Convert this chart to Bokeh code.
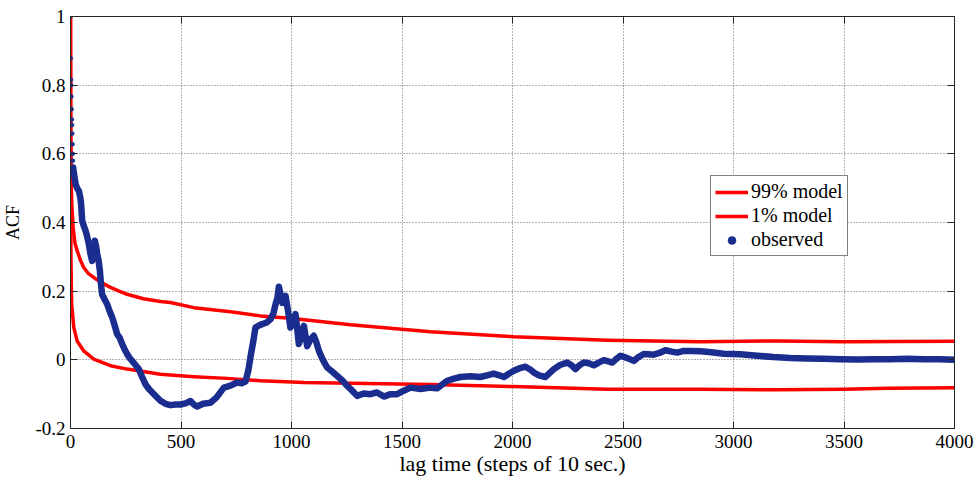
from bokeh.plotting import figure
from bokeh.models import Range1d, FixedTicker, LinearAxis, Legend, LegendItem
from bokeh.embed import file_html
from bokeh.resources import INLINE

# ---------------- data ----------------
obs_lag = [0, 1, 2, 3, 4, 5, 6, 7, 8, 9, 10, 11, 12, 15, 23, 30, 38, 45, 48, 53, 60, 68, 75, 83, 90, 98,
           104, 110, 116, 121, 127, 133, 138, 143, 155, 166, 178, 189, 200, 211, 222, 234, 245, 256, 268,
           279, 294, 309, 324, 339, 355, 370, 390, 407, 430, 452, 475, 498, 520, 543, 558, 573, 600, 633,
           660, 694, 724, 754, 775, 792, 805, 814, 826, 837, 852, 867, 886, 905, 918, 928, 936, 943, 950,
           958, 965, 973, 985, 995, 1007, 1018, 1026, 1033, 1045, 1056, 1063, 1071, 1086, 1101, 1113, 1124,
           1142, 1161, 1185, 1207, 1230, 1252, 1275, 1297, 1327, 1357, 1387, 1418, 1448, 1478, 1508, 1538,
           1584, 1629, 1659, 1704, 1735, 1765, 1810, 1855, 1885, 1915, 1940, 1961, 1985, 2006, 2030, 2059,
           2080, 2097, 2120, 2149, 2165, 2187, 2215, 2247, 2265, 2285, 2305, 2323, 2345, 2368, 2390, 2413,
           2430, 2451, 2470, 2489, 2520, 2549, 2570, 2594, 2615, 2639, 2665, 2692, 2720, 2745, 2775, 2805,
           2851, 2900, 2956, 3030, 3107, 3180, 3258, 3330, 3408, 3480, 3560, 3640, 3710, 3790, 3861, 3930,
           4000]
obs_acf = [1.0, 0.878, 0.816, 0.80, 0.767, 0.73, 0.70, 0.684, 0.659, 0.628, 0.60, 0.58, 0.56, 0.546, 0.512,
           0.50, 0.492, 0.47, 0.454, 0.405, 0.39, 0.376, 0.36, 0.337, 0.31, 0.288,
           0.32, 0.347, 0.33, 0.308, 0.29, 0.259, 0.22, 0.191, 0.175, 0.162, 0.14, 0.123, 0.10, 0.075, 0.065,
           0.046, 0.03, 0.017, 0.005,
           -0.003, -0.015, -0.027, -0.05, -0.071, -0.085, -0.095, -0.108, -0.119, -0.128, -0.132, -0.13,
           -0.13, -0.127, -0.12, -0.13, -0.136, -0.128, -0.125,
           -0.11, -0.081, -0.075, -0.066, -0.068, -0.063, -0.03, 0.007, 0.05, 0.094, 0.10, 0.104, 0.108,
           0.118, 0.135, 0.162, 0.18, 0.213, 0.19,
           0.166, 0.18, 0.186, 0.14, 0.094, 0.11, 0.133, 0.09, 0.046, 0.07, 0.099, 0.07, 0.04, 0.06, 0.07,
           0.05, 0.026,
           0.0, -0.022, -0.035, -0.047, -0.06, -0.076, -0.09, -0.105, -0.098, -0.10, -0.095, -0.107, -0.10,
           -0.10, -0.09, -0.081,
           -0.085, -0.081, -0.083, -0.061, -0.055, -0.05, -0.048, -0.05, -0.045, -0.04, -0.045, -0.05, -0.04,
           -0.032, -0.025, -0.02,
           -0.028, -0.037, -0.045, -0.05, -0.04, -0.027, -0.015, -0.008, -0.015, -0.027, -0.015, -0.008,
           -0.01, -0.016, -0.008, -0.001,
           -0.004, -0.008, 0.003, 0.012, 0.005, -0.003, 0.008, 0.017, 0.016, 0.015, 0.02, 0.028, 0.024,
           0.021, 0.026, 0.026,
           0.025, 0.022, 0.018, 0.016, 0.012, 0.008, 0.005, 0.004, 0.003, 0.002, 0.001, 0.002, 0.002,
           0.003, 0.002, 0.002,
           0.0]

m99_lag = [0, 1, 3, 6, 12, 20, 30, 45, 60, 80, 105, 140, 181, 220, 256, 330, 407, 452, 558, 724, 860, 995,
           1267, 1629, 2006, 2429, 2851, 3200, 3500, 4000]
m99_acf = [1.0, 0.70, 0.52, 0.45, 0.385, 0.34, 0.318, 0.29, 0.269, 0.252, 0.24, 0.225, 0.211, 0.20, 0.191,
           0.178, 0.17, 0.167, 0.152, 0.14, 0.128, 0.121, 0.102, 0.082, 0.067, 0.057, 0.053, 0.055, 0.053,
           0.054]

m01_lag = [0, 1, 2, 5, 15, 30, 60, 105, 181, 256, 407, 558, 709, 860, 1056, 1629, 2006, 2429, 2851, 3200,
           3500, 3700, 4000]
m01_acf = [1.0, 0.5, 0.3, 0.163, 0.094, 0.055, 0.026, 0.002, -0.017, -0.027, -0.042, -0.049, -0.054, -0.061,
           -0.066, -0.072, -0.078, -0.086, -0.086, -0.087, -0.086, -0.083, -0.081]

x_ticks = [0, 500, 1000, 1500, 2000, 2500, 3000, 3500, 4000]
x_tick_labels = ["0", "500", "1000", "1500", "2000", "2500", "3000", "3500", "4000"]
y_ticks = [-0.2, 0, 0.2, 0.4, 0.6, 0.8, 1.0]
y_tick_labels = ["-0.2", "0", "0.2", "0.4", "0.6", "0.8", "1"]

series_names = ["99% model", "1% model", "observed"]
x_label = "lag time (steps of 10 sec.)"
y_label = "ACF"

# ---------------- styling ----------------
FONT = "Liberation Serif"
RED = "#ff0000"
BLUE = "#1b2d8e"
AX = "#262626"

p = figure(frame_width=884, frame_height=412,
           x_range=Range1d(0, 4000), y_range=Range1d(-0.2, 1.0),
           output_backend="svg", toolbar_location=None,
           min_border_left=70, min_border_top=16, min_border_right=20, min_border_bottom=40,
           background_fill_color="white", border_fill_color="white")
p.outline_line_color = None

for ax in (p.xaxis[0], p.yaxis[0]):
    ax.major_tick_in = 7
    ax.major_tick_out = 0
    ax.minor_tick_in = 0
    ax.minor_tick_out = 0
    ax.axis_line_color = AX
    ax.major_tick_line_color = AX
    ax.major_label_text_font = FONT
    ax.major_label_text_font_size = "19px"
    ax.major_label_text_color = "black"
    ax.axis_label_text_font = FONT
    ax.axis_label_text_font_style = "normal"
    ax.axis_label_text_color = "black"

p.xaxis[0].ticker = FixedTicker(ticks=x_ticks)
p.xaxis[0].major_label_overrides = dict(zip(x_ticks, x_tick_labels))
p.xaxis[0].major_label_standoff = 6
p.xaxis[0].axis_label = x_label
p.xaxis[0].axis_label_text_font_size = "22px"
p.xaxis[0].axis_label_standoff = 0

p.yaxis[0].ticker = FixedTicker(ticks=y_ticks)
p.yaxis[0].major_label_overrides = dict(zip(y_ticks, y_tick_labels))
p.yaxis[0].major_label_standoff = 5
p.yaxis[0].axis_label = y_label
p.yaxis[0].axis_label_text_font_size = "18px"
p.yaxis[0].axis_label_standoff = 9

# box axes on top / right with inward ticks, labels not painted
top = LinearAxis(ticker=FixedTicker(ticks=x_ticks), major_label_text_color=None,
                 major_label_text_font_size="6px",
                 major_tick_in=7, major_tick_out=0, minor_tick_in=0, minor_tick_out=0,
                 axis_line_color=AX, major_tick_line_color=AX, major_label_standoff=0)
right = LinearAxis(ticker=FixedTicker(ticks=y_ticks), major_label_text_color=None,
                   major_label_text_font_size="6px",
                   major_tick_in=7, major_tick_out=0, minor_tick_in=0, minor_tick_out=0,
                   axis_line_color=AX, major_tick_line_color=AX, major_label_standoff=0)
p.add_layout(top, "above")
p.add_layout(right, "right")

p.xgrid.ticker = FixedTicker(ticks=x_ticks)
p.ygrid.ticker = FixedTicker(ticks=y_ticks)
for g in (p.xgrid[0], p.ygrid[0]):
    g.grid_line_color = "#000000"
    g.grid_line_alpha = 0.6
    g.grid_line_dash = "1 2"
    g.grid_line_width = 1

# ---------------- glyphs ----------------
r99 = p.line(m99_lag, m99_acf, line_color=RED, line_width=3.5, line_join="round")
r01 = p.line(m01_lag, m01_acf, line_color=RED, line_width=3.5, line_join="round")

start = obs_lag.index(12)
p.line(obs_lag[start:], obs_acf[start:], line_color=BLUE, line_width=6.5, line_join="round", line_cap="round")
robs = p.scatter(obs_lag, obs_acf, marker="circle", size=4, fill_color=BLUE, line_color=BLUE, line_width=0.5)

legend = Legend(items=[LegendItem(label=series_names[0], renderers=[r99]),
                       LegendItem(label=series_names[1], renderers=[r01]),
                       LegendItem(label=series_names[2], renderers=[robs])],
                location=(640, 172))
legend.label_text_font = FONT
legend.label_text_font_size = "20px"
legend.label_text_color = "black"
legend.border_line_color = "black"
legend.border_line_width = 1
legend.background_fill_color = "white"
legend.background_fill_alpha = 1.0
legend.glyph_width = 33
legend.glyph_height = 20
legend.label_height = 20
legend.label_standoff = 3
legend.spacing = 1
legend.padding = 4
legend.margin = 0
p.add_layout(legend, "center")

open("out.html", "w").write(file_html(p, INLINE))
